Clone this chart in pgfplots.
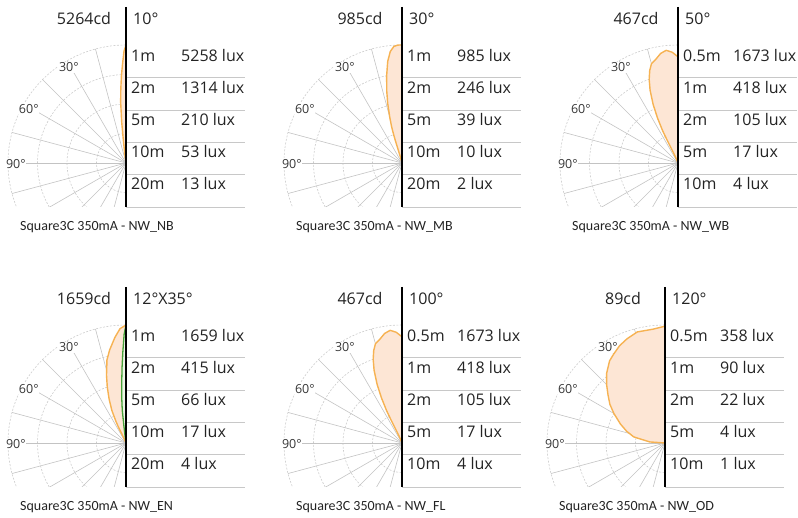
\documentclass[border=0pt]{standalone}
\usepackage{fontspec}
\setmainfont{Open Sans}
\newfontfamily\capfont{Carlito}
\usepackage{pgfplots}
\usepackage{pgfplotstable}
\pgfplotsset{compat=1.18}

\definecolor{orangeL}{RGB}{246,178,82}
\definecolor{peach}{RGB}{253,230,213}
\definecolor{greenL}{RGB}{70,160,55}
\definecolor{greenF}{RGB}{236,246,228}
\definecolor{spokec}{RGB}{195,195,195}
\definecolor{circc}{RGB}{205,205,205}
\definecolor{tablec}{RGB}{200,200,200}
\definecolor{txt}{RGB}{35,35,35}
\definecolor{labc}{RGB}{55,55,55}

% photometric angle t (deg from beam axis), relative intensity r (% of outer circle)
\pgfplotstableread{
t r
0 100
1 95
2 84
3 74
4 63
5 52
6 35
6.5 22
7 13
8 6
10 0
}\tNB
\pgfplotstableread{
t r
0 100
2 100
4 99
6 95
8 87
10 75
12 62
13.5 52
15 40
16 32
16.5 24
16.5 17
16 10
15 5
14 2
14 0
}\tMB
\pgfplotstableread{
t r
0 90
3 94
6 96
9 94
12 90
15 87
17 82
19 75
21 66
23 54
24.5 42
25.5 30
25.5 22
25 15
24 9
22 4
20 0
}\tWB
\pgfplotstableread{
t r
0 100
3 97
6 90
10 80
13 72
14.3 66
16 60
18.5 50
21 40
23.5 30
25 20
25.5 15
25 10
24 5
22 0
}\tENa
\pgfplotstableread{
t r
0 100
1 92
2 77
3 64
4.4 48
5.5 37
6.5 28
7.1 14
7.5 6
8 0
}\tENb
\pgfplotstableread{
t r
0 99
6 97
14 97
20 94
25 91
30 87
34 84
40 77
45 70
50 63
55 57
60 50
67 41
73 34
79 27
86 13
90 0
}\tOD

\tikzset{
  maintxt/.style={font=\fontsize{16}{19}\selectfont, text=txt, inner sep=0pt},
  angtxt/.style={font=\fontsize{12.5}{14}\selectfont, text=labc, inner sep=0.8pt, fill=white},
  captxt/.style={font=\capfont\fontsize{14}{17}\selectfont, text=txt, inner sep=0pt},
}

% polar grid: centre (#1,#2)
\newcommand\panelbg[2]{%
  \begin{scope}
    \clip (#1-130,#2-44) rectangle (#1,#2+125);
    \foreach \rr in {29.5,59,88.5,118}
      \draw[circc, dash pattern=on 2pt off 1.5pt, line width=0.6pt] (#1,#2) circle (\rr);
    \foreach \aa in {105,120,...,255}
      \draw[spokec, line width=0.6pt] (#1,#2) -- ++(\aa:118);
  \end{scope}
  \node[angtxt, anchor=base west] at (#1-68,#2+91.3) {30°};
  \node[angtxt, anchor=base west] at (#1-108,#2+49.7) {60°};
  \node[angtxt, anchor=base west] at (#1-121,#2-5.3) {90°};
}
% frame, table lines, headings, caption
\newcommand\panelfg[5]{%
  \foreach \yy in {86,53,21,-11,-44}
    \draw[tablec, line width=0.9pt] (#1,#2+\yy) -- (#1+119,#2+\yy);
  \draw[black, line width=1.05pt] (#1,#2+156) -- (#1,#2-44);
  \node[maintxt, anchor=base] at (#1-42,#2+138) {#3};
  \node[maintxt, anchor=base west] at (#1+7,#2+138) {#4};
  \node[captxt, anchor=base west] at (#1-106,#2-68) {#5};
}
\newcommand\rowtext[5]{%
  \node[maintxt, anchor=base west] at (#1+5,#2+#3) {#4};
  \node[maintxt, anchor=base west] at (#1+55,#2+#3) {#5};
}
\pgfplotsset{panelax/.style={anchor=south west, x=1.18pt, y=1.18pt,
  xmin=-100, xmax=0, ymin=0, ymax=100, hide axis, clip=false}}

\begin{document}
\begin{tikzpicture}[x=1pt,y=1pt]
\useasboundingbox (0,0) rectangle (798,518);

% ---------- Panel 1: NB ----------
\panelbg{126}{355}
\begin{axis}[panelax, at={(8pt,355pt)}]
\addplot[draw=orangeL, fill=peach, line width=1.4pt, data cs=polar]
  table[x expr=\thisrow{t}+90, y=r] {\tNB} -- cycle;
\end{axis}
\panelfg{126}{355}{5264cd}{10°}{Square3C 350mA - NW\_NB}
\rowtext{126}{355}{101.5}{1m}{5258 lux}
\rowtext{126}{355}{69.5}{2m}{1314 lux}
\rowtext{126}{355}{37.5}{5m}{210 lux}
\rowtext{126}{355}{5.5}{10m}{53 lux}
\rowtext{126}{355}{-26.5}{20m}{13 lux}

% ---------- Panel 2: MB ----------
\panelbg{402}{355}
\begin{axis}[panelax, at={(284pt,355pt)}]
\addplot[draw=orangeL, fill=peach, line width=1.4pt, data cs=polar]
  table[x expr=\thisrow{t}+90, y=r] {\tMB} -- cycle;
\end{axis}
\panelfg{402}{355}{985cd}{30°}{Square3C 350mA - NW\_MB}
\rowtext{402}{355}{101.5}{1m}{985 lux}
\rowtext{402}{355}{69.5}{2m}{246 lux}
\rowtext{402}{355}{37.5}{5m}{39 lux}
\rowtext{402}{355}{5.5}{10m}{10 lux}
\rowtext{402}{355}{-26.5}{20m}{2 lux}

% ---------- Panel 3: WB ----------
\panelbg{678}{355}
\begin{axis}[panelax, at={(560pt,355pt)}]
\addplot[draw=orangeL, fill=peach, line width=1.4pt, data cs=polar]
  table[x expr=\thisrow{t}+90, y=r] {\tWB} -- cycle;
\end{axis}
\panelfg{678}{355}{467cd}{50°}{Square3C 350mA - NW\_WB}
\rowtext{678}{355}{101.5}{0.5m}{1673 lux}
\rowtext{678}{355}{69.5}{1m}{418 lux}
\rowtext{678}{355}{37.5}{2m}{105 lux}
\rowtext{678}{355}{5.5}{5m}{17 lux}
\rowtext{678}{355}{-26.5}{10m}{4 lux}

% ---------- Panel 4: EN ----------
\panelbg{126}{75}
\begin{axis}[panelax, at={(8pt,75pt)}]
\addplot[draw=orangeL, fill=peach, line width=1.4pt, data cs=polar]
  table[x expr=\thisrow{t}+90, y=r] {\tENa} -- cycle;
\addplot[draw=greenL, fill=greenF, line width=1.3pt, data cs=polar]
  table[x expr=\thisrow{t}+90, y=r] {\tENb} -- cycle;
\end{axis}
\panelfg{126}{75}{1659cd}{12°X35°}{Square3C 350mA - NW\_EN}
\rowtext{126}{75}{101.5}{1m}{1659 lux}
\rowtext{126}{75}{69.5}{2m}{415 lux}
\rowtext{126}{75}{37.5}{5m}{66 lux}
\rowtext{126}{75}{5.5}{10m}{17 lux}
\rowtext{126}{75}{-26.5}{20m}{4 lux}

% ---------- Panel 5: FL ----------
\panelbg{402}{75}
\begin{axis}[panelax, at={(284pt,75pt)}]
\addplot[draw=orangeL, fill=peach, line width=1.4pt, data cs=polar]
  table[x expr=\thisrow{t}+90, y=r] {\tWB} -- cycle;
\end{axis}
\panelfg{402}{75}{467cd}{100°}{Square3C 350mA - NW\_FL}
\rowtext{402}{75}{101.5}{0.5m}{1673 lux}
\rowtext{402}{75}{69.5}{1m}{418 lux}
\rowtext{402}{75}{37.5}{2m}{105 lux}
\rowtext{402}{75}{5.5}{5m}{17 lux}
\rowtext{402}{75}{-26.5}{10m}{4 lux}

% ---------- Panel 6: OD ----------
\panelbg{665}{75}
\begin{axis}[panelax, at={(547pt,75pt)}]
\addplot[draw=orangeL, fill=peach, line width=1.4pt, data cs=polar]
  table[x expr=\thisrow{t}+90, y=r] {\tOD} -- cycle;
\end{axis}
\panelfg{665}{75}{89cd}{120°}{Square3C 350mA - NW\_OD}
\rowtext{665}{75}{101.5}{0.5m}{358 lux}
\rowtext{665}{75}{69.5}{1m}{90 lux}
\rowtext{665}{75}{37.5}{2m}{22 lux}
\rowtext{665}{75}{5.5}{5m}{4 lux}
\rowtext{665}{75}{-26.5}{10m}{1 lux}

\end{tikzpicture}
\end{document}
